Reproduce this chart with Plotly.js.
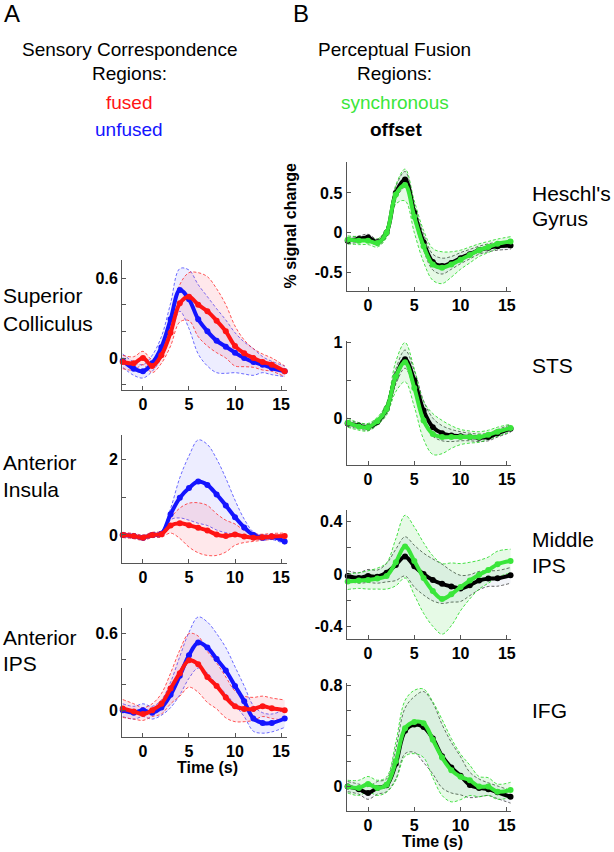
<!DOCTYPE html>
<html>
<head>
<meta charset="utf-8">
<script src="https://cdn.plot.ly/plotly-3.0.1.min.js"></script>
<style>html,body{margin:0;padding:0;background:#fff;}#chart{width:614px;height:852px;}</style>
</head>
<body>
<div id="chart"></div>
<script>
// ---- DATA ----
const time_s = [-2.2,-1,0,1,2,3,4,5,6,7,8,9,10,11,12,13,14,15.4];
const x_tick_vals = [0,5,10,15];
const x_tick_text = ['0','5','10','15'];

// A: Sensory correspondence regions (fused = red, unfused = blue)
const sc_unfused     = [-0.02,-0.08,-0.10,-0.04,0.08,0.29,0.51,0.44,0.29,0.20,0.13,0.085,0.04,0.00,-0.03,-0.05,-0.075,-0.10];
const sc_unfused_err = [0.05,0.05,0.05,0.06,0.08,0.12,0.16,0.22,0.26,0.26,0.24,0.20,0.15,0.12,0.10,0.06,0.05,0.04];
const sc_fused       = [-0.03,-0.04,0.00,-0.06,0.02,0.19,0.41,0.46,0.40,0.35,0.28,0.20,0.09,0.035,0.00,-0.03,-0.05,-0.10];
const sc_fused_err   = [0.05,0.05,0.05,0.05,0.06,0.10,0.14,0.18,0.24,0.26,0.24,0.20,0.15,0.10,0.07,0.06,0.05,0.04];

const ai_unfused     = [0.0,-0.03,-0.07,0.0,0.03,0.55,0.98,1.24,1.41,1.32,1.07,0.78,0.47,0.2,0.0,-0.07,-0.05,-0.17];
const ai_unfused_err = [0.05,0.05,0.06,0.06,0.07,0.15,0.53,0.85,1.10,1.07,0.94,0.72,0.45,0.22,0.08,0.07,0.07,0.07];
const ai_fused       = [0.0,-0.03,-0.07,0.0,0.02,0.25,0.31,0.26,0.19,0.12,0.01,-0.03,0.01,-0.04,-0.07,-0.06,-0.04,-0.03];
const ai_fused_err   = [0.07,0.07,0.07,0.07,0.08,0.20,0.40,0.58,0.66,0.66,0.55,0.42,0.28,0.16,0.10,0.08,0.08,0.08];

const aips_unfused     = [0.0,-0.02,0.0,-0.02,0.02,0.12,0.27,0.43,0.53,0.49,0.40,0.31,0.19,0.07,-0.065,-0.10,-0.10,-0.065];
const aips_unfused_err = [0.05,0.05,0.05,0.05,0.06,0.10,0.15,0.18,0.20,0.20,0.20,0.18,0.15,0.12,0.10,0.08,0.07,0.07];
const aips_fused       = [0.013,-0.01,-0.03,0.0,0.05,0.17,0.29,0.39,0.36,0.26,0.19,0.10,0.03,0.01,0.01,0.03,0.015,0.0];
const aips_fused_err   = [0.07,0.06,0.05,0.05,0.08,0.12,0.18,0.21,0.22,0.20,0.18,0.16,0.12,0.10,0.09,0.08,0.08,0.08];

// B: Perceptual fusion regions (synchronous = green, offset = black)
const hg_sync       = [-0.09,-0.10,-0.10,-0.13,0.0,0.48,0.60,0.20,-0.17,-0.40,-0.44,-0.40,-0.34,-0.28,-0.22,-0.18,-0.14,-0.11];
const hg_sync_err   = [0.05,0.05,0.05,0.05,0.06,0.12,0.20,0.20,0.20,0.20,0.20,0.16,0.12,0.10,0.08,0.07,0.06,0.06];
const hg_offset     = [-0.10,-0.08,-0.06,-0.12,0.0,0.50,0.67,0.25,-0.12,-0.37,-0.42,-0.38,-0.32,-0.27,-0.22,-0.19,-0.17,-0.16];
const hg_offset_err = [0.04,0.04,0.04,0.04,0.05,0.08,0.10,0.10,0.10,0.10,0.10,0.08,0.07,0.06,0.05,0.05,0.05,0.05];

const sts_sync       = [-0.06,-0.11,-0.12,-0.04,0.12,0.55,0.74,0.40,-0.03,-0.21,-0.25,-0.25,-0.25,-0.25,-0.25,-0.22,-0.18,-0.13];
const sts_sync_err   = [0.06,0.05,0.05,0.05,0.08,0.20,0.26,0.25,0.25,0.27,0.22,0.15,0.10,0.08,0.07,0.06,0.06,0.05];
const sts_offset     = [-0.07,-0.10,-0.12,-0.05,0.12,0.55,0.78,0.50,0.10,-0.12,-0.20,-0.23,-0.24,-0.25,-0.26,-0.25,-0.20,-0.14];
const sts_offset_err = [0.04,0.04,0.04,0.04,0.06,0.10,0.12,0.13,0.13,0.12,0.10,0.08,0.06,0.05,0.05,0.05,0.05,0.05];

const mips_sync       = [-0.058,-0.05,-0.045,-0.035,-0.015,0.09,0.21,0.10,-0.03,-0.13,-0.19,-0.155,-0.10,-0.05,-0.005,0.03,0.075,0.10];
const mips_sync_err   = [0.06,0.06,0.07,0.08,0.10,0.18,0.24,0.26,0.27,0.27,0.27,0.24,0.18,0.14,0.11,0.10,0.10,0.09];
const mips_offset     = [-0.015,-0.03,-0.015,-0.02,0.01,0.07,0.135,0.06,0.0,-0.045,-0.075,-0.095,-0.11,-0.085,-0.05,-0.035,-0.033,-0.01];
const mips_offset_err = [0.04,0.04,0.05,0.05,0.07,0.12,0.15,0.16,0.16,0.16,0.15,0.12,0.10,0.08,0.07,0.06,0.06,0.06];

const ifg_sync       = [0.0,-0.01,0.02,-0.01,0.015,0.20,0.46,0.51,0.50,0.37,0.23,0.13,0.077,0.05,0.0,0.0,-0.04,-0.026];
const ifg_sync_err   = [0.05,0.06,0.06,0.06,0.06,0.15,0.22,0.25,0.27,0.30,0.30,0.25,0.18,0.12,0.08,0.07,0.06,0.06];
const ifg_offset     = [0.0,-0.02,-0.05,-0.01,0.01,0.18,0.44,0.49,0.47,0.38,0.24,0.15,0.085,0.013,-0.01,-0.02,-0.045,-0.08];
const ifg_offset_err = [0.04,0.04,0.05,0.05,0.05,0.12,0.18,0.22,0.28,0.28,0.25,0.20,0.15,0.10,0.07,0.05,0.05,0.05];

// y tick values / labels per panel
const sc_yticks = [-0.2,0,0.2,0.4,0.6];   const sc_ylabels = ['','0','','','0.6'];
const ai_yticks = [0,1,2];                 const ai_ylabels = ['0','','2'];
const aips_yticks = [0,0.2,0.4,0.6];       const aips_ylabels = ['0','','','0.6'];
const hg_yticks = [-0.5,0,0.5];            const hg_ylabels = ['-0.5','0','0.5'];
const sts_yticks = [0,0.5,1];              const sts_ylabels = ['0','','1'];
const mips_yticks = [-0.4,-0.2,0,0.2,0.4]; const mips_ylabels = ['-0.4','','0','','0.4'];
const ifg_yticks = [0,0.2,0.4,0.6,0.8];    const ifg_ylabels = ['0','','','','0.8'];

// ---- STYLE / LAYOUT ----
const W = 614, H = 852;
const FONT = 'Liberation Sans, Arial, Helvetica, sans-serif';
const STY = {
  red:   {line:'#ff1414', edge:'rgba(255,30,30,0.75)', fill:'rgba(255,80,100,0.13)'},
  blue:  {line:'#1414ff', edge:'rgba(30,30,255,0.65)', fill:'rgba(80,80,255,0.10)'},
  green: {line:'#3ae63a', edge:'rgba(40,220,40,0.85)', fill:'rgba(60,220,60,0.13)'},
  black: {line:'#000000', edge:'rgba(0,0,0,0.6)',      fill:'rgba(70,100,150,0.07)'}
};
const panels = [
  {xd:[122,287], yd:[260,390],   xr:[-2.28,15.65], yr:[-0.24,0.735], yt:sc_yticks,   yl:sc_ylabels,
   s:[[sc_unfused,sc_unfused_err,'blue'],[sc_fused,sc_fused_err,'red']]},
  {xd:[122,287], yd:[435,563],   xr:[-2.28,15.65], yr:[-0.74,2.64],  yt:ai_yticks,   yl:ai_ylabels,
   s:[[ai_unfused,ai_unfused_err,'blue'],[ai_fused,ai_fused_err,'red']]},
  {xd:[122,287], yd:[608,737],   xr:[-2.28,15.65], yr:[-0.21,0.80],  yt:aips_yticks, yl:aips_ylabels,
   s:[[aips_unfused,aips_unfused_err,'blue'],[aips_fused,aips_fused_err,'red']]},
  {xd:[346.5,511], yd:[162,290.7], xr:[-2.33,15.45], yr:[-0.73,0.89], yt:hg_yticks, yl:hg_ylabels,
   s:[[hg_offset,hg_offset_err,'black'],[hg_sync,hg_sync_err,'green']]},
  {xd:[346.5,511], yd:[341,465],   xr:[-2.33,15.45], yr:[-0.62,1.02], yt:sts_yticks, yl:sts_ylabels,
   s:[[sts_offset,sts_offset_err,'black'],[sts_sync,sts_sync_err,'green']]},
  {xd:[346.5,511], yd:[510,639],   xr:[-2.33,15.45], yr:[-0.497,0.49], yt:mips_yticks, yl:mips_ylabels,
   s:[[mips_offset,mips_offset_err,'black'],[mips_sync,mips_sync_err,'green']]},
  {xd:[346.5,511], yd:[682.7,810.7], xr:[-2.33,15.45], yr:[-0.19,0.82], yt:ifg_yticks, yl:ifg_ylabels,
   s:[[ifg_offset,ifg_offset_err,'black'],[ifg_sync,ifg_sync_err,'green']]}
];

const traces = [];
const layout = {
  width: W, height: H, margin:{l:0,r:0,t:0,b:0},
  paper_bgcolor:'#ffffff', plot_bgcolor:'rgba(0,0,0,0)', showlegend:false,
  font:{family:FONT, color:'#000'}, annotations:[]
};
const tickFont = {family:FONT, size:16, color:'#000', weight:'bold'};

panels.forEach((p, i) => {
  const n = i + 1;
  const xa = n === 1 ? 'x' : 'x' + n, ya = n === 1 ? 'y' : 'y' + n;
  layout[n === 1 ? 'xaxis' : 'xaxis' + n] = {
    domain:[p.xd[0]/W, p.xd[1]/W], range:p.xr, anchor:ya,
    showline:true, linecolor:'#555', linewidth:1, ticks:'inside', ticklen:4, tickcolor:'#555',
    tickvals:x_tick_vals, ticktext:x_tick_text, showgrid:false, zeroline:false, tickfont:tickFont, fixedrange:true
  };
  layout[n === 1 ? 'yaxis' : 'yaxis' + n] = {
    domain:[1 - p.yd[1]/H, 1 - p.yd[0]/H], range:p.yr, anchor:xa,
    showline:true, linecolor:'#555', linewidth:1, ticks:'inside', ticklen:4, tickcolor:'#555',
    tickvals:p.yt, ticktext:p.yl, showgrid:false, zeroline:false, tickfont:tickFont, fixedrange:true
  };
  // bands first
  p.s.forEach(([m, e, c]) => {
    const st = STY[c];
    const lo = m.map((v, k) => v - e[k]);
    const hi = m.map((v, k) => v + e[k]);
    traces.push({x:time_s, y:lo, xaxis:xa, yaxis:ya, mode:'lines', hoverinfo:'skip',
      line:{color:st.edge, width:1, dash:'3px,2px', shape:'spline', smoothing:1}});
    traces.push({x:time_s, y:hi, xaxis:xa, yaxis:ya, mode:'lines', hoverinfo:'skip', fill:'tonexty', fillcolor:st.fill,
      line:{color:st.edge, width:1, dash:'3px,2px', shape:'spline', smoothing:1}});
  });
  // means on top
  p.s.forEach(([m, e, c]) => {
    const st = STY[c];
    traces.push({x:time_s, y:m, xaxis:xa, yaxis:ya, mode:'lines+markers', cliponaxis:false,
      line:{color:st.line, width:4, shape:'spline', smoothing:1},
      marker:{color:st.line, size:6}});
  });
});

function ann(text, xpx, ypx, size, color, xanchor, extra) {
  return Object.assign({text:text, x:xpx/W, y:1 - ypx/H, xref:'paper', yref:'paper',
    xanchor:xanchor || 'center', yanchor:'middle', showarrow:false,
    font:{family:FONT, size:size, color:color || '#000'}}, extra || {});
}
const A = layout.annotations;
A.push(ann('A', 2, 13.5, 24, '#000', 'left'));
A.push(ann('B', 291, 13.5, 24, '#000', 'left'));
A.push(ann('Sensory Correspondence', 129, 50, 19));
A.push(ann('Regions:', 129, 73.5, 19));
A.push(ann('fused', 129, 102.5, 19, '#ff1414'));
A.push(ann('unfused', 129, 130, 19, '#1414ff'));
A.push(ann('Perceptual Fusion', 395, 50, 19));
A.push(ann('Regions:', 395, 73.5, 19));
A.push(ann('synchronous', 395, 102.5, 19, '#3ae63a'));
A.push(ann('<b>offset</b>', 396, 130, 19));
// row labels
A.push(ann('Superior', 1, 295.5, 21, '#000', 'left'));
A.push(ann('Colliculus', 1, 324, 21, '#000', 'left'));
A.push(ann('Anterior', 1, 462.5, 21, '#000', 'left'));
A.push(ann('Insula', 1, 489.5, 21, '#000', 'left'));
A.push(ann('Anterior', 1, 637.5, 21, '#000', 'left'));
A.push(ann('IPS', 1, 663.5, 21, '#000', 'left'));
A.push(ann("Heschl's", 530, 193.5, 21, '#000', 'left'));
A.push(ann('Gyrus', 530, 218, 21, '#000', 'left'));
A.push(ann('STS', 530, 365.5, 21, '#000', 'left'));
A.push(ann('Middle', 530, 539.5, 21, '#000', 'left'));
A.push(ann('IPS', 530, 565.5, 21, '#000', 'left'));
A.push(ann('IFG', 530, 710.5, 21, '#000', 'left'));
// axis titles
A.push(ann('<b>Time (s)</b>', 207, 767, 16));
A.push(ann('<b>Time (s)</b>', 432, 841, 16));
A.push(ann('<b>% signal change</b>', 290.5, 226, 16, '#000', 'center', {textangle:-90}));

Plotly.newPlot('chart', traces, layout, {staticPlot:true, displayModeBar:false});
</script>
</body>
</html>
